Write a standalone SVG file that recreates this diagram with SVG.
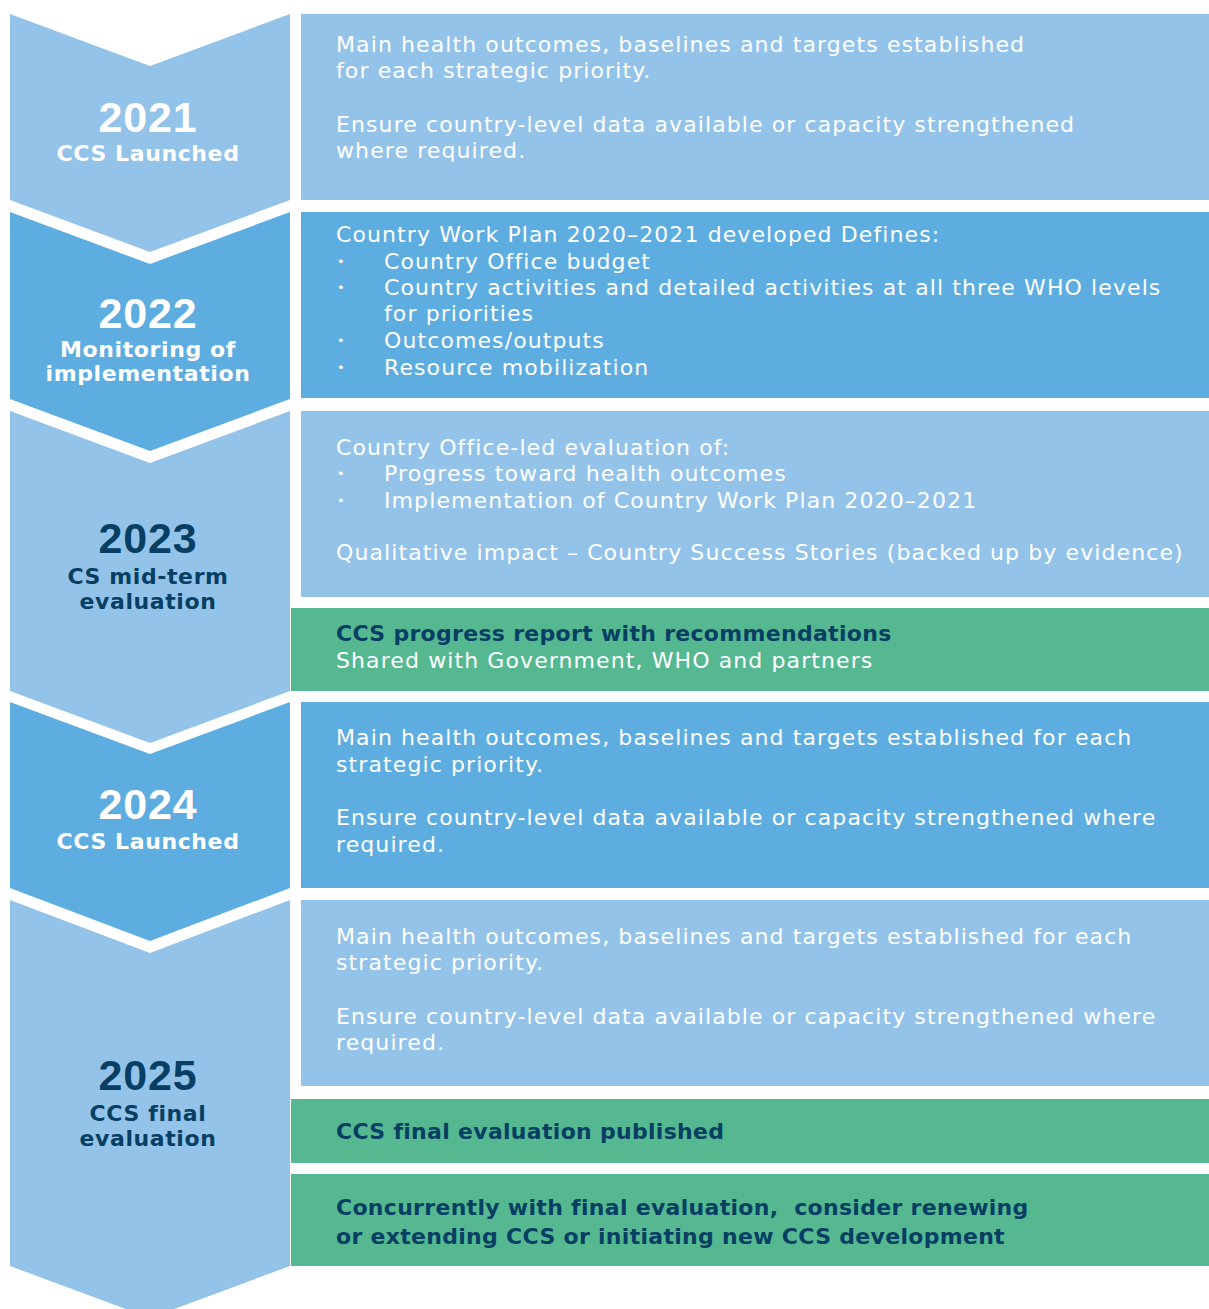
<svg xmlns="http://www.w3.org/2000/svg" width="1209" height="1309" viewBox="0 0 1209 1309">
<style>
.lb{fill:#94C3E9}.mb{fill:#5DADE0}.gr{fill:#55B891}
.t{font-family:"DejaVu Sans","Open Sans",sans-serif;font-size:22px;letter-spacing:1.1px;fill:#ffffff}
.bu{font-family:"DejaVu Sans",sans-serif;font-size:13px;fill:#ffffff}
.tb{font-family:"DejaVu Sans","Open Sans",sans-serif;font-size:22px;letter-spacing:0.3px;font-weight:bold;fill:#063F63}
.yr{font-family:"Liberation Sans",Arial,sans-serif;font-size:43px;letter-spacing:0.8px;font-weight:bold;text-anchor:middle}
.sub{font-family:"DejaVu Sans","Open Sans",sans-serif;font-size:22px;letter-spacing:0.6px;font-weight:bold;text-anchor:middle}
.w{fill:#ffffff}.d{fill:#063F63}
</style>
<rect width="1209" height="1309" fill="#ffffff"/>
<g id="stage2021">
<polygon class="lb" points="10,14 150,66 290,14 290,200 150,252 10,200"/>
<text class="yr w" x="148" y="132">2021</text>
<text class="sub w" x="148" y="161">CCS Launched</text>
</g>
<g id="box2021">
<rect class="lb" x="301" y="14" width="908" height="186"/>
<text class="t" x="336" y="52">Main health outcomes, baselines and targets established</text>
<text class="t" x="336" y="78">for each strategic priority.</text>
<text class="t" x="336" y="132">Ensure country-level data available or capacity strengthened</text>
<text class="t" x="336" y="158">where required.</text>
</g>
<g id="stage2022">
<polygon class="mb" points="10,212 150,264 290,212 290,399 150,451 10,399"/>
<text class="yr w" x="148" y="328">2022</text>
<text class="sub w" x="148" y="357">Monitoring of</text>
<text class="sub w" x="148" y="381">implementation</text>
</g>
<g id="box2022">
<rect class="mb" x="301" y="212" width="908" height="186"/>
<text class="t" x="336" y="242">Country Work Plan 2020–2021 developed Defines:</text>
<text class="bu" x="337" y="266">•</text><text class="t" x="384" y="269">Country Office budget</text>
<text class="bu" x="337" y="292">•</text><text class="t" x="384" y="295">Country activities and detailed activities at all three WHO levels</text>
<text class="t" x="384" y="321">for priorities</text>
<text class="bu" x="337" y="345">•</text><text class="t" x="384" y="348">Outcomes/outputs</text>
<text class="bu" x="337" y="372">•</text><text class="t" x="384" y="375">Resource mobilization</text>
</g>
<g id="stage2023">
<polygon class="lb" points="10,411 150,463 290,411 290,691 150,743 10,691"/>
<text class="yr d" x="148" y="553">2023</text>
<text class="sub d" x="148" y="584">CS mid-term</text>
<text class="sub d" x="148" y="609">evaluation</text>
</g>
<g id="box2023">
<rect class="lb" x="301" y="411" width="908" height="186"/>
<text class="t" x="336" y="455">Country Office-led evaluation of:</text>
<text class="bu" x="337" y="478">•</text><text class="t" x="384" y="481">Progress toward health outcomes</text>
<text class="bu" x="337" y="505">•</text><text class="t" x="384" y="508">Implementation of Country Work Plan 2020–2021</text>
<text class="t" x="336" y="560">Qualitative impact – Country Success Stories (backed up by evidence)</text>
</g>
<g id="report2023">
<rect class="gr" x="291" y="608" width="918" height="83"/>
<text class="tb" x="336" y="641">CCS progress report with recommendations</text>
<text class="t" x="336" y="668">Shared with Government, WHO and partners</text>
</g>
<g id="stage2024">
<polygon class="mb" points="10,702 150,754 290,702 290,888 150,941 10,888"/>
<text class="yr w" x="148" y="819">2024</text>
<text class="sub w" x="148" y="849">CCS Launched</text>
</g>
<g id="box2024">
<rect class="mb" x="301" y="702" width="908" height="186"/>
<text class="t" x="336" y="745">Main health outcomes, baselines and targets established for each</text>
<text class="t" x="336" y="772">strategic priority.</text>
<text class="t" x="336" y="825">Ensure country-level data available or capacity strengthened where</text>
<text class="t" x="336" y="852">required.</text>
</g>
<g id="stage2025">
<polygon class="lb" points="10,900 150,953 290,900 290,1266 150,1318 10,1266"/>
<text class="yr d" x="148" y="1090">2025</text>
<text class="sub d" x="148" y="1121">CCS final</text>
<text class="sub d" x="148" y="1146">evaluation</text>
</g>
<g id="box2025">
<rect class="lb" x="301" y="900" width="908" height="186"/>
<text class="t" x="336" y="944">Main health outcomes, baselines and targets established for each</text>
<text class="t" x="336" y="970">strategic priority.</text>
<text class="t" x="336" y="1024">Ensure country-level data available or capacity strengthened where</text>
<text class="t" x="336" y="1050">required.</text>
</g>
<g id="published2025">
<rect class="gr" x="291" y="1099" width="918" height="64"/>
<text class="tb" x="336" y="1139">CCS final evaluation published</text>
</g>
<g id="renew2025">
<rect class="gr" x="291" y="1174" width="918" height="92"/>
<text class="tb" x="336" y="1215" xml:space="preserve">Concurrently with final evaluation,  consider renewing</text>
<text class="tb" x="336" y="1244">or extending CCS or initiating new CCS development</text>
</g>
<g id="connectors"></g>
</svg>
